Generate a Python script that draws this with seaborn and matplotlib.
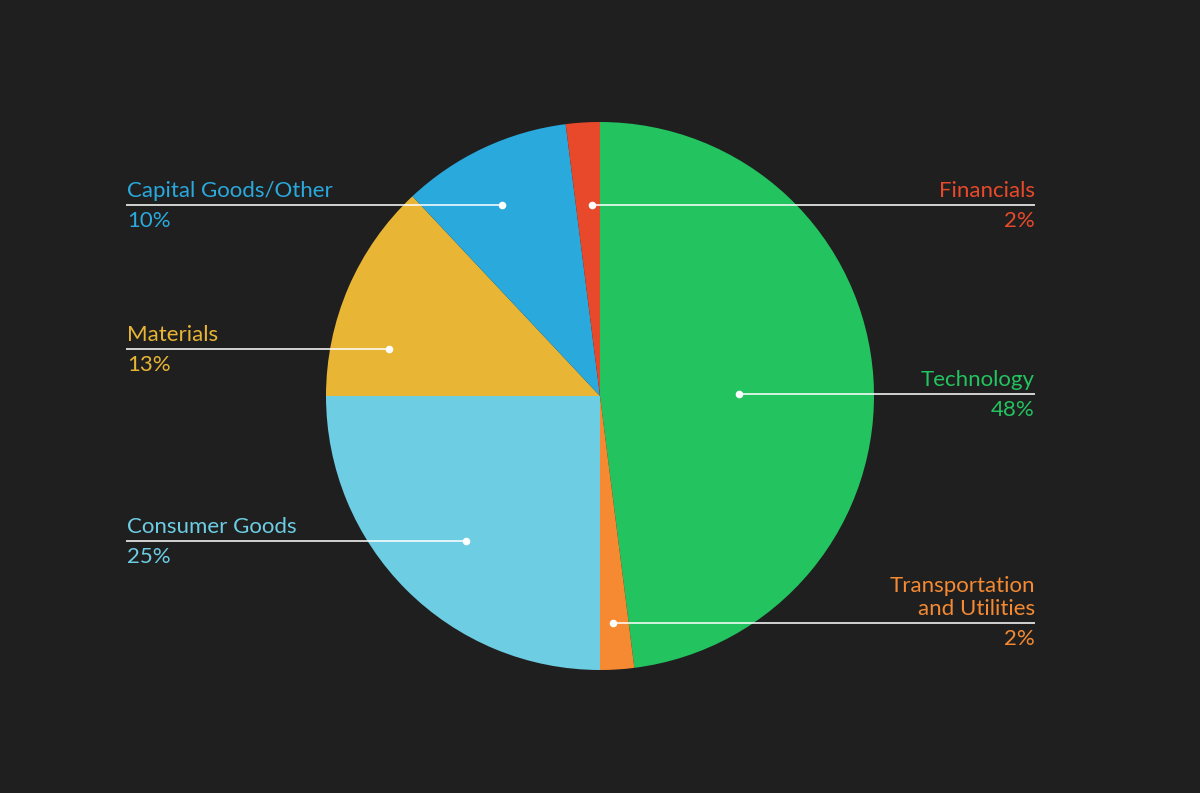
import matplotlib
matplotlib.use("Agg")
import matplotlib.pyplot as plt
import seaborn as sns

sns.set_theme(style="dark")
plt.rcParams['font.family'] = ['Lato', 'DejaVu Sans']

categories = ["Technology", "Transportation\nand Utilities", "Consumer Goods",
              "Materials", "Capital Goods/Other", "Financials"]
values = [48, 2, 25, 13, 10, 2]
colors = ["#23c35f", "#f68a33", "#6dcde3", "#e8b535", "#2aa9dd", "#e8492a"]

# layout: label side, line y (px from top), dot x (px)
sides = ["right", "right", "left", "left", "left", "right"]
line_y = [394, 623, 541, 349, 205, 205]
dot_x = [739, 613, 466, 389, 502, 592]

W, H = 1200, 793
bg = "#1f1f1f"
fig = plt.figure(figsize=(12, 7.93), dpi=100, facecolor=bg)
ax = fig.add_axes([0, 0, 1, 1])
ax.set_facecolor(bg)

cx, cy, r = 600, H - 396, 274
ax.pie(values, colors=colors, startangle=90, counterclock=False,
       center=(cx, cy), radius=r, frame=True,
       wedgeprops=dict(linewidth=0))
ax.set_xlim(0, W)
ax.set_ylim(0, H)
ax.set_aspect("equal")
ax.axis("off")

left_x, right_x = 126, 1035
fs = 16
for cat, v, c, side, ly, dx in zip(categories, values, colors, sides, line_y, dot_x):
    y = H - ly
    if side == "left":
        x0, ha, tx = left_x, "left", left_x + 1
    else:
        x0, ha, tx = right_x, "right", right_x
    ax.plot([x0, dx], [y, y], color="white", alpha=0.8, lw=1.4,
            solid_capstyle="butt", zorder=5)
    ax.scatter([dx], [y], s=30, color="white", zorder=6, linewidths=0)
    ax.text(tx, y + 4, cat, color=c, fontsize=fs,
            ha=ha, va="bottom", linespacing=1.2, zorder=7)
    ax.text(tx, y - 6, f"{v}%", color=c, fontsize=fs,
            ha=ha, va="top", zorder=7)

fig.savefig("out.png", dpi=100, facecolor=bg)
